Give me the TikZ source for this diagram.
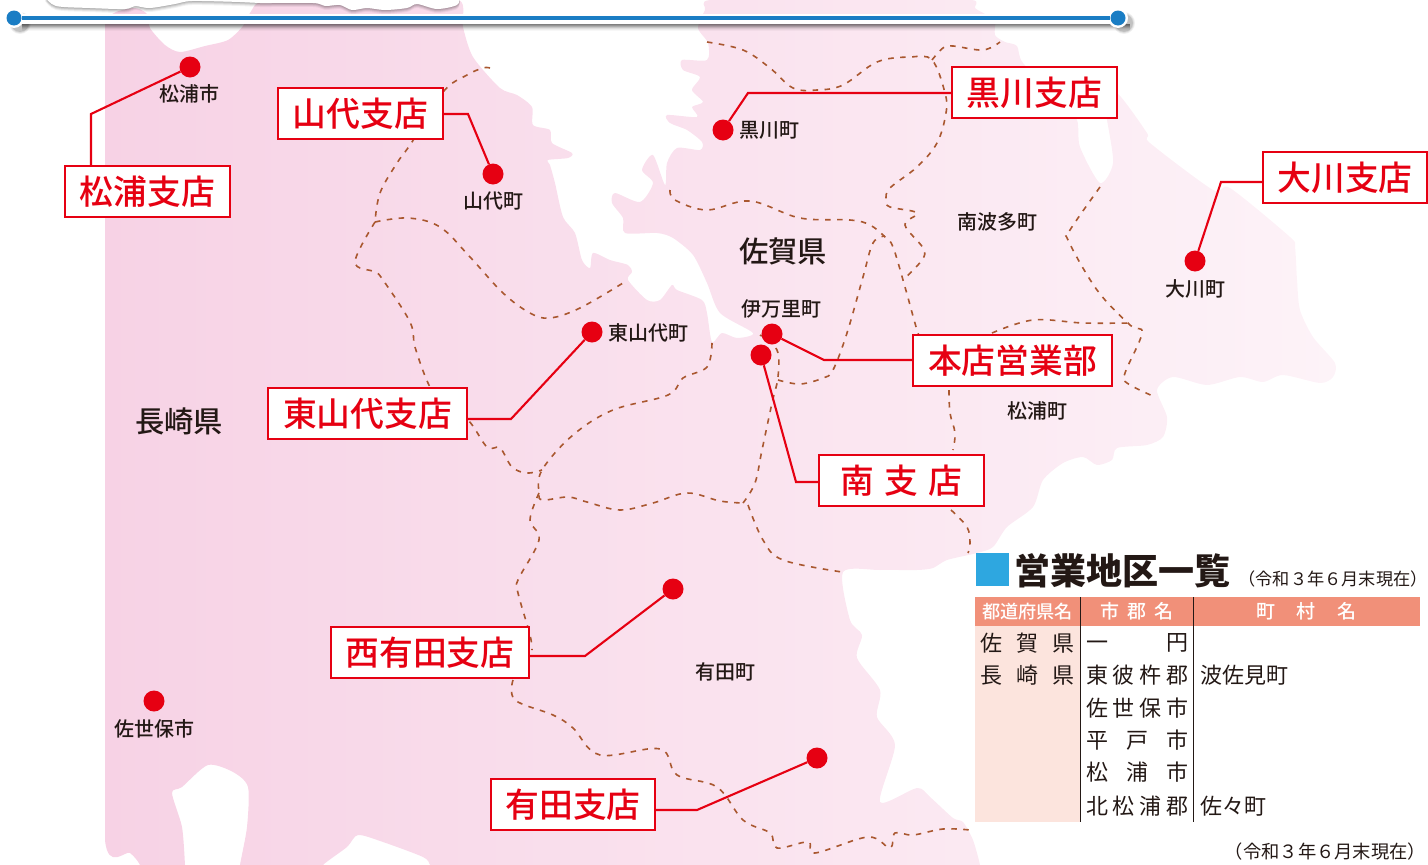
\documentclass[tikz,border=0pt]{standalone}
\usepackage{fontspec}
\newfontfamily\jp{Noto Sans CJK JP}
\newfontfamily\jpm{Noto Sans CJK JP Medium}
\newfontfamily\jpb{Noto Sans CJK JP Black}
\definecolor{redc}{HTML}{E60012}
\definecolor{inkc}{HTML}{231815}
\definecolor{borderc}{HTML}{A9572F}
\definecolor{bluec}{HTML}{1A7DC4}
\definecolor{headc}{HTML}{F19079}
\definecolor{colc}{HTML}{FCE4DD}
\definecolor{sqc}{HTML}{2EA7E0}
\definecolor{landl}{HTML}{F7D2E5}
\definecolor{landr}{HTML}{FDF3F8}
\tikzset{
  border/.style={draw=borderc,line width=1.6pt,dash pattern=on 5.5pt off 6.5pt},
  conn/.style={draw=redc,line width=2.1pt,line join=miter},
  dot/.style={circle,fill=redc,inner sep=0pt,minimum size=21pt},
  branch/.style={draw=redc,line width=2.2pt,fill=white,inner sep=0pt,font=\jpm\fontsize{33.8}{34}\selectfont,text=redc},
  place/.style={inner sep=0pt,yshift=-.8pt,font=\jpm\fontsize{20}{20}\selectfont,text=inkc},
  pref/.style={inner sep=0pt,yshift=-.8pt,font=\jpm\fontsize{29.3}{30}\selectfont,text=inkc},
  cell/.style={inner sep=0pt,anchor=west,font=\jp\fontsize{22}{22}\selectfont,text=inkc},
  headt/.style={inner sep=0pt,font=\jpm\fontsize{19}{19}\selectfont,text=white},
  note/.style={inner sep=0pt,font=\jp\fontsize{17.2}{18}\selectfont,text=inkc},
}
\newcommand{\bordr}[1]{\draw[border] plot[smooth,tension=.6] coordinates {#1};}
\newcommand{\spr}[2]{\makebox[#1pt][s]{#2}}
\begin{document}
\begin{tikzpicture}[x=1pt,y=-1pt]
\useasboundingbox (0,0) rectangle (1428,865);
% land
\shade[left color=landl,right color=landr]
 plot[smooth cycle,tension=.45] coordinates {
 (105,30)(105,20)(116,12)(135,8)(147,14)(150,28)(165,45)(180,52)(205,46)(228,40)(243,26)(250,13)(270,0)(400,0)(459,0)
 (463,27)(473,57)(500,88)(517,95)(532,107)(533,125)(550,130)(552,143)(572,153)(568,158)(548,160)(550,165)(555,183)(563,217)(575,233)(582,260)(590,268)(593,253)(610,260)(628,265)(632,272)(628,280)(647,300)(660,300)(672,285)(677,290)(702,300)(707,313)(712,342)(722,333)(737,338)(753,333)
 (720,313)(707,283)(693,255)(673,238)(657,233)(625,233)(623,218)(612,203)(615,193)(640,202)(653,183)(642,170)(653,155)(665,185)(667,163)(677,148)(700,150)(702,142)(687,130)(670,123)(667,115)(697,117)(692,107)(703,102)(692,90)(700,77)(683,70)(682,60)(707,60)(708,43)(698,28)(705,10)(710,0)
 (800,0)(900,0)(972,0)(975,8)(985,14)(995,20)(995,35)(1005,42)(1017,46)(1023,63)(1060,100)(1077,120)(1080,147)(1100,183)(1113,163)(1107,120)(1104,104)(1117,93)(1147,133)(1150,143)(1213,190)(1230,188)(1290,237)(1295,247)(1297,280)(1300,310)(1313,337)(1335,363)(1333,377)(1320,383)(1283,375)(1263,382)(1240,377)(1207,385)(1173,377)(1157,390)(1167,417)(1163,437)(1147,445)(1117,448)(1112,460)(1097,465)(1083,457)(1063,463)(1043,480)(1033,507)(1007,527)(993,547)(977,553)(947,560)(933,568)(917,570)(880,570)(843,572)
 (850,620)(862,635)(857,658)(880,690)(877,717)(895,745)(880,802)(917,788)(930,797)(953,818)(963,822)(973,840)(980,865)(980,875)(700,875)(430,875)(430,865)(423,857)(383,842)(358,835)(347,847)(323,865)(320,875)(240,875)(240,865)(247,827)(248,787)(233,772)(208,765)(182,787)(172,793)(182,827)(185,865)(185,875)(140,875)(140,865)(130,853)(105,840)(105,600)(105,300)
 };
\fill[white] (0,0) rectangle (105,865);
% title remnants
\foreach \dy/\op in {4/.05,3/.07,2/.09,1/.11}
  \fill[black,fill opacity=\op,yshift=-\dy pt] plot[smooth,tension=.5] coordinates {(45,-3)(56,6)(90,8)(125,9)(135,6)(150,8)(175,4)(192,1)(240,2)(260,3)(313,3)(325,6)(340,5)(352,10)(367,8)(385,10)(407,8)(417,4)(437,9)(457,5)(460,-3)} -- cycle;
\fill[white] plot[smooth,tension=.5] coordinates {(45,-3)(56,6)(90,8)(125,9)(135,6)(150,8)(175,4)(192,1)(240,2)(260,3)(313,3)(325,6)(340,5)(352,10)(367,8)(385,10)(407,8)(417,4)(437,9)(457,5)(460,-3)} -- cycle;
% borders
\bordr{(490,68)(483,68)(467,75)(443,92)(412,142)(397,163)(380,193)(375,222)}
\bordr{(375,222)(355,262)(375,272)(383,280)(410,322)(415,347)(428,383)(440,400)(468,420)(487,447)(500,448)(512,467)(527,473)(542,470)}
\bordr{(375,222)(408,218)(440,227)(470,257)(503,293)(530,313)(550,318)(580,308)(623,283)}
\bordr{(712,343)(707,367)(683,378)(668,395)(613,410)(573,435)(542,470)(539,493)(543,500)(568,497)(587,502)(620,510)(653,503)(687,493)(720,501)(743,503)}
\bordr{(743,503)(755,483)(762,450)(772,403)(778,377)(777,350)(760,335)}
\bordr{(778,380)(800,384)(823,378)(833,370)(847,333)(863,277)(873,243)(885,236)}
\bordr{(670,190)(675,200)(707,210)(750,201)(800,218)(850,220)(870,225)(885,237)(893,247)(905,287)(918,333)(925,345)}
\bordr{(949,390)(950,413)(955,433)(953,450)}
\bordr{(951,510)(967,527)(970,543)(968,553)}
\bordr{(707,42)(743,50)(770,68)(793,88)(817,90)(843,85)(877,62)(910,57)(932,60)(945,93)(946,113)(937,143)(917,167)(890,188)(886,200)(890,207)(917,213)(905,225)(923,248)(922,260)(903,280)}
\bordr{(932,60)(943,48)(953,46)(983,50)(1000,42)}
\bordr{(1100,187)(1070,230)(1068,240)(1097,290)(1130,325)(1142,333)(1125,373)(1127,383)(1155,397)}
\bordr{(992,333)(1033,320)(1083,323)(1130,323)}
\bordr{(539,493)(530,520)(539,540)(518,580)(518,593)(530,635)(532,650)}
\bordr{(513,680)(515,700)(553,715)(573,728)(600,755)(660,749)(677,775)(717,787)(743,820)(770,833)(777,848)(808,842)(815,853)(868,837)(890,848)(895,833)(913,835)(943,829)(970,830)}
\bordr{(748,505)(763,540)(783,560)(842,572)}
% dots
\node[dot] (dMatsuura) at (190,67) {};
\node[dot] (dYamashiro) at (493,174) {};
\node[dot] (dKurokawa) at (723,130) {};
\node[dot] (dOkawa) at (1195,261) {};
\node[dot] (dHigashi) at (592,332) {};
\node[dot] (dImari) at (772,334) {};
\node[dot] (dMinami) at (761,355) {};
\node[dot] (dNishi) at (673,589) {};
\node[dot] (dArita) at (817,758) {};
\node[dot] (dSasebo) at (154,701) {};
% branch boxes
\node[branch,minimum width=165pt,minimum height=51pt] (bMatsuura) at (147.5,191.5) {松浦支店};
\node[branch,minimum width=165pt,minimum height=51pt] (bYamashiro) at (360.5,113.5) {山代支店};
\node[branch,minimum width=165pt,minimum height=51pt] (bKurokawa) at (1034.5,92.5) {黒川支店};
\node[branch,minimum width=164pt,minimum height=51pt] (bOkawa) at (1345,177.5) {大川支店};
\node[branch,minimum width=199pt,minimum height=51pt] (bHonten) at (1012.5,360.5) {本店営業部};
\node[branch,minimum width=199pt,minimum height=51pt] (bHigashi) at (367.5,413.5) {東山代支店};
\node[branch,minimum width=165pt,minimum height=51pt] (bMinami) at (901.5,480.5) {\spr{122}{南\hfil 支\hfil 店}};
\node[branch,minimum width=198pt,minimum height=51pt] (bNishi) at (430,652.5) {西有田支店};
\node[branch,minimum width=164pt,minimum height=51pt] (bArita) at (573,804.5) {有田支店};
% connectors
\coordinate (kMatsuura) at (91,114);
\coordinate (kYamashiro) at (468,114);
\coordinate (kKurokawa) at (748,93);
\coordinate (kOkawa) at (1221,182);
\coordinate (kHonten) at (824,360);
\coordinate (kMinami) at (796,482);
\coordinate (kHigashi) at (511,419);
\coordinate (kNishi) at (585,656);
\coordinate (kArita) at (697,810);
\draw[conn] (kMatsuura |- bMatsuura.north) -- (kMatsuura) -- (dMatsuura);
\draw[conn] (bYamashiro.east |- kYamashiro) -- (kYamashiro) -- (dYamashiro);
\draw[conn] (bKurokawa.west |- kKurokawa) -- (kKurokawa) -- (dKurokawa);
\draw[conn] (bOkawa.west |- kOkawa) -- (kOkawa) -- (dOkawa);
\draw[conn] (bHonten.west |- kHonten) -- (kHonten) -- (dImari);
\draw[conn] (bMinami.west |- kMinami) -- (kMinami) -- (dMinami);
\draw[conn] (bHigashi.east |- kHigashi) -- (kHigashi) -- (dHigashi);
\draw[conn] (bNishi.east |- kNishi) -- (kNishi) -- (dNishi);
\draw[conn] (bArita.east |- kArita) -- (kArita) -- (dArita);
% place labels
\node[place] (l1) at (189,93) {松浦市};
\node[place] (l2) at (493,200) {山代町};
\node[place] (l3) at (769,130) {黒川町};
\node[place] (l4) at (1195,288) {大川町};
\node[place] (l5) at (648,332) {東山代町};
\node[place] (l6) at (781,308) {伊万里町};
\node[place] (l7) at (154,728) {佐世保市};
\node[place] (l8) at (725,671) {有田町};
\node[place] (l9) at (997,221) {南波多町};
\node[place] (l10) at (1037,410) {松浦町};
\node[pref] (p1) at (179,421) {長崎県};
\node[pref] (p2) at (783,251) {佐賀県};
% list
\fill[sqc] (976,553) rectangle (1009,586);
\node[inner sep=0pt,anchor=center,font=\jpb\fontsize{36}{36}\selectfont,text=inkc] (title) at (1122.5,571) {営業地区一覧};
\node[note] (n1) at (1333,579) {（令和３年６月末現在）};
\fill[headc] (975,597) rectangle (1420,626);
\fill[colc] (975,626) rectangle (1079.5,822);
\node[headt,font=\jpm\fontsize{18.2}{19}\selectfont] (h1) at (1027.5,611.5) {都道府県名};
\node[headt] (h2) at (1136.5,611.5) {\spr{73}{市\hfil 郡\hfil 名}};
\node[headt] (h3) at (1306.5,611.5) {\spr{101}{町\hfil 村\hfil 名}};
\draw[inkc,line width=1.3pt] (1080.5,597) -- (1080.5,822);
\draw[inkc,line width=1.3pt] (1193.5,597) -- (1193.5,822);
\node[cell] (c11) at (980,643) {\spr{94}{佐\hfil 賀\hfil 県}};
\node[cell] (c21) at (980,675) {\spr{94}{長\hfil 崎\hfil 県}};
\node[cell] (c12) at (1086,643) {\spr{102}{一\hfil 円}};
\node[cell] (c22) at (1086,675) {\spr{102}{東\hfil 彼\hfil 杵\hfil 郡}};
\node[cell] (c32) at (1086,708) {\spr{102}{佐\hfil 世\hfil 保\hfil 市}};
\node[cell] (c42) at (1086,740) {\spr{102}{平\hfil 戸\hfil 市}};
\node[cell] (c52) at (1086,772) {\spr{102}{松\hfil 浦\hfil 市}};
\node[cell] (c62) at (1086,806) {\spr{102}{北\hfil 松\hfil 浦\hfil 郡}};
\node[cell] (c23) at (1200,675) {波佐見町};
\node[cell] (c63) at (1200,806) {佐々町};
\node[note,font=\jp\fontsize{18.3}{19}\selectfont] (n2) at (1325.5,852) {（令和３年６月末現在）};
% blue rule
\foreach \yy/\op in {24/.5,25/.42,26/.32,27/.22,28/.13,29/.07,30/.03}
  \fill[black,fill opacity=\op] (22,\yy) rectangle (1130,\yy+1);
\foreach \rr/\op in {11/.06,10/.08,9/.12}{
  \fill[black,fill opacity=\op] (20,23) circle (\rr);
  \fill[black,fill opacity=\op] (1124,23) circle (\rr);
}
\fill[white] (12,14) rectangle (1122,24);
\fill[white] (14,18) circle (10);
\fill[white] (1118,18) circle (10);
\node[circle,fill=bluec,inner sep=0pt,minimum size=15pt] (eL) at (14,18) {};
\node[circle,fill=bluec,inner sep=0pt,minimum size=15pt] (eR) at (1118,18) {};
\draw[bluec,line width=4pt] (eL) -- (eR);
\end{tikzpicture}
\end{document}
